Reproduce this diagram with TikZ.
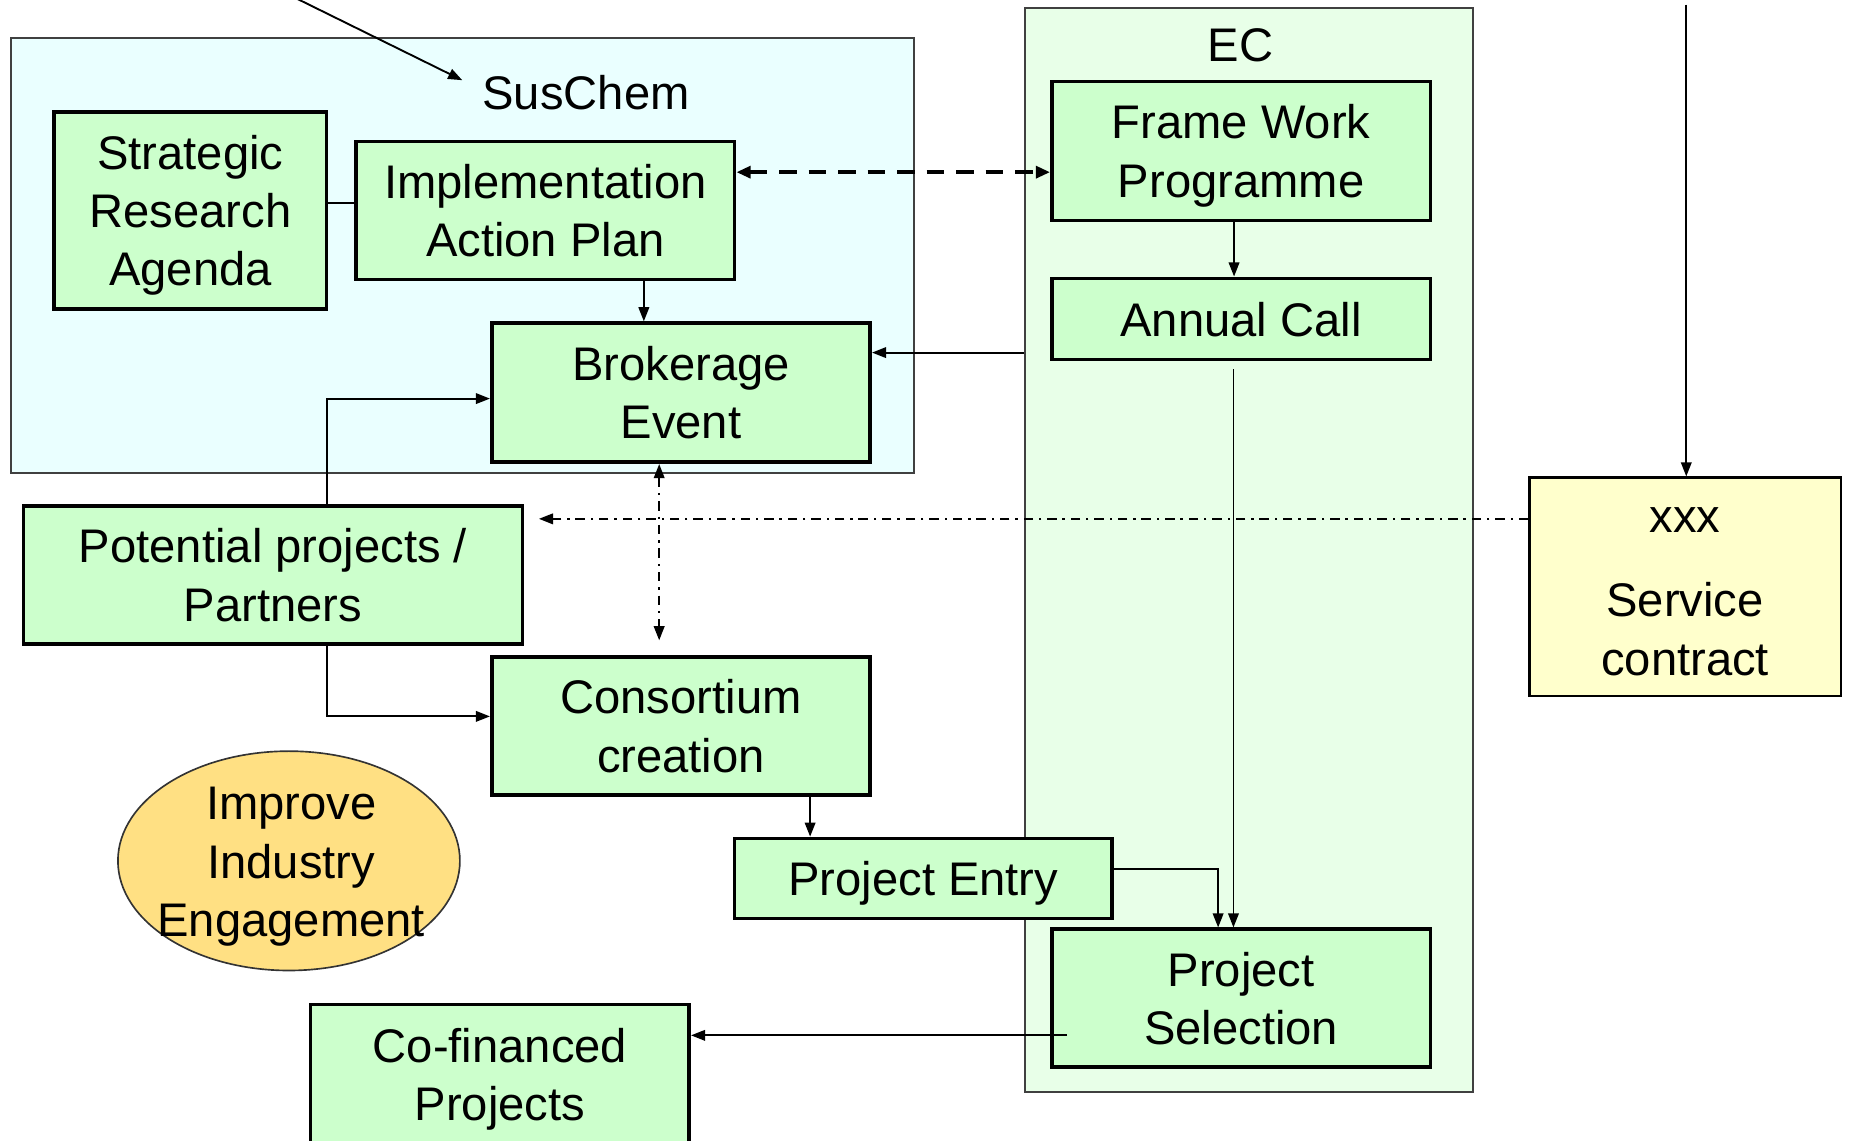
\documentclass[tikz,border=0pt]{standalone}
\usepackage{fontspec}
\setmainfont{Liberation Sans}
\usetikzlibrary{arrows.meta,shapes.geometric}
\definecolor{boxgreen}{HTML}{CCFFCC}
\definecolor{suscyan}{HTML}{EAFFFF}
\definecolor{ecgreen}{HTML}{E8FFE8}
\definecolor{svcyellow}{HTML}{FFFFCC}
\definecolor{gold}{HTML}{FFE083}
\begin{document}
\begin{tikzpicture}[x=1pt,y=-1pt,
  every node/.style={font=\fontsize{40}{49.5}\selectfont, inner sep=0pt, align=center, text depth=0pt},
  box/.style={draw=black, line width=3pt, fill=boxgreen, rectangle},
  cont/.style={draw=black!75, line width=1.6pt, rectangle},
  conn/.style={line width=1.6pt, -{Triangle[length=12pt,width=9pt]}},
  dashlink/.style={line width=3pt, dash pattern=on 15pt off 10pt, {Triangle[length=12pt,width=10pt]}-{Triangle[length=12pt,width=10pt]}},
  dotdash/.style={line width=1.6pt, dash pattern=on 8pt off 5pt on 2pt off 5pt},
]
\useasboundingbox (0,0) rectangle (1568,967);
% containers
\node[cont, fill=suscyan, minimum width=766pt, minimum height=369pt] (sus) at (392,216.5) {};
\node[cont, fill=ecgreen, minimum width=380pt, minimum height=919pt] (ec) at (1059,466.5) {};
\node (suslbl) at (497,78) {SusChem};
\node (eclbl) at (1052,38) {EC};
% boxes
\node[box, minimum width=231pt, minimum height=167pt] (sra) at (161.5,178.5) {Strategic\\Research\\Agenda};
\node[box, minimum width=321pt, minimum height=117pt] (iap) at (462.5,178.5) {Implementation\\Action Plan};
\node[box, minimum width=321pt, minimum height=118pt] (brk) at (577.5,333) {Brokerage\\Event};
\node[box, minimum width=321pt, minimum height=118pt] (fwp) at (1052.5,128) {Frame Work\\Programme};
\node[box, minimum width=321pt, minimum height=69pt] (ac) at (1052.5,270.5) {Annual Call};
\node[box, minimum width=321pt, minimum height=117pt] (ps) at (1052.5,846.5) {Project\\Selection};
\node[draw=black, line width=2pt, fill=svcyellow, rectangle, minimum width=264pt, minimum height=185pt, text height=150pt] (xxx) at (1429,497.5) {xxx\\[22pt]Service\\contract};
\node[box, minimum width=423pt, minimum height=117pt] (pot) at (231.5,487.5) {Potential projects /\\Partners};
\node[box, minimum width=321pt, minimum height=117pt] (cons) at (577.5,615.5) {Consortium\\creation};
\node[box, minimum width=320pt, minimum height=68pt] (pe) at (783,745) {Project Entry};
\node[box, minimum width=321pt, minimum height=118pt] (cof) at (424,911) {Co-financed\\Projects};
\node[ellipse, draw=black!80, line width=1.4pt, fill=gold, minimum width=290pt, minimum height=186pt] (imp) at (245,730) {};
\node (imptxt) at (247,731) {Improve\\Industry\\Engagement};
% helper coordinates
\coordinate (tla) at (250,-2);
\coordinate (tlb) at (392,68);
\coordinate (x546) at (546,0);
\coordinate (y299) at (0,299);
\coordinate (x277) at (277,0);
\coordinate (c543) at (559,543);
\coordinate (p457) at (457,440);
\coordinate (tr) at (1430,4);
\coordinate (ac2) at (1046,313);
\coordinate (x687) at (687,0);
\coordinate (x1033) at (1033,0);
\coordinate (ps2) at (905,878);
\coordinate (d1) at ([yshift=32.5pt]iap.east);
% connectors
\draw[conn] (tla) -- (tlb);
\draw[line width=1.6pt] ([yshift=6pt]sra.east) -- ([yshift=6pt]iap.west);
\draw[dashlink] (d1) -- (d1 -| fwp.west);
\draw[conn] (iap.south -| x546) -- (brk.north -| x546);
\draw[conn] ([xshift=-6pt]fwp.south) -- ([xshift=-6pt]ac.north);
\draw[conn] (ec.west |- y299) -- (brk.east |- y299);
\draw[conn] (pot.north -| x277) |- ([yshift=-5pt]brk.west);
\draw[conn] (pot.south -| x277) |- ([yshift=8pt]cons.west);
\draw[dotdash, {Triangle[length=12pt,width=9pt]}-{Triangle[length=12pt,width=9pt]}] (brk.south -| c543) -- (c543);
\draw[dotdash, -{Triangle[length=12pt,width=9pt]}] (xxx.west |- p457) -- (p457);
\draw[conn] (tr) -- (xxx.north -| tr);
\draw[conn] (ac2) -- (ps.north -| ac2);
\draw[conn] (cons.south -| x687) -- (pe.north -| x687);
\draw[conn] ([yshift=8pt]pe.east) -| (ps.north -| x1033);
\draw[conn] (ps2) -- (ps2 -| cof.east);
\end{tikzpicture}
\end{document}
